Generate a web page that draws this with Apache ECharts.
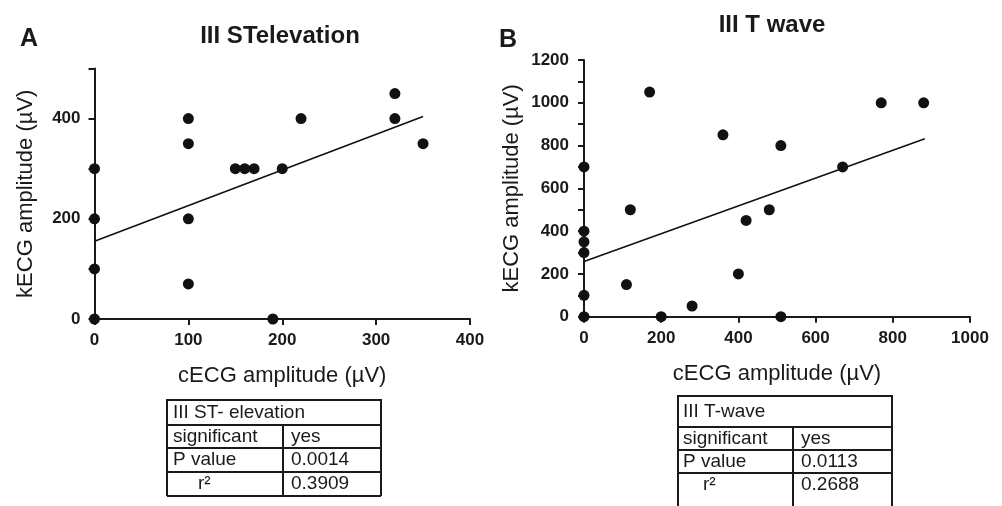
<!DOCTYPE html>
<html>
<head>
<meta charset="utf-8">
<script src="https://cdn.jsdelivr.net/npm/echarts@6/dist/echarts.min.js"></script>
<style>
  html, body { margin: 0; padding: 0; background: #fff; }
  #chart { width: 1002px; height: 506px; }
</style>
</head>
<body>
<div id="chart"></div>
<script>
// panel A : III ST elevation (cECG, kECG in µV)
var stPoints = [
  [0, 0], [0, 100], [0, 200], [0, 300],
  [100, 400], [100, 350], [100, 200], [100, 70],
  [150, 300], [160, 300], [170, 300], [200, 300],
  [220, 400], [190, 0], [320, 450], [320, 400], [350, 350]
]
var stFit = [[0, 155], [350, 404]]
var stYLabels = [0, 200, 400]
var stTable = [['III ST- elevation'], ['significant', 'yes'], ['P value', '0.0014'], ['r²', '0.3909']]

// panel B : III T wave
var twPoints = [
  [0, 0], [0, 100], [0, 300], [0, 350], [0, 400], [0, 700],
  [110, 150], [120, 500], [170, 1050], [200, 0], [280, 50],
  [360, 850], [400, 200], [420, 450], [480, 500], [510, 800],
  [510, 0], [670, 700], [770, 1000], [880, 1000]
]
var twFit = [[0, 258], [883, 832]]
var twYLabels = [0, 200, 400, 600, 800, 1000, 1200]
var twTable = [['III T-wave'], ['significant', 'yes'], ['P value', '0.0113'], ['r²', '0.2688']]

var font = 'Liberation Sans, Arial, Helvetica, sans-serif'
var ink = '#1a1a1a'

function xAxisOf(idx, max, step) {
  return {
    gridIndex: idx, type: 'value', min: 0, max: max, interval: step,
    name: 'cECG amplitude (µV)', nameLocation: 'middle', nameGap: 46,
    nameTextStyle: { fontFamily: font, fontSize: 22, color: ink },
    axisLine: { show: true, onZero: false, lineStyle: { color: ink, width: 2 } },
    axisTick: { show: true, length: 6, lineStyle: { color: ink, width: 2 } },
    axisLabel: {
      margin: 13, fontFamily: font, fontSize: 17, fontWeight: 'bold', color: ink,
      formatter: function (v) { return String(v) }
    },
    splitLine: { show: false }
  }
}

function yAxisOf(idx, max, labels, gap, margin) {
  return {
    gridIndex: idx, type: 'value', min: 0, max: max, interval: 100,
    name: 'kECG amplitude (µV)', nameLocation: 'middle', nameGap: gap,
    nameTextStyle: { fontFamily: font, fontSize: 22, color: ink },
    axisLine: { show: true, onZero: false, lineStyle: { color: ink, width: 2 } },
    axisTick: { show: true, length: 6, lineStyle: { color: ink, width: 2 } },
    axisLabel: {
      margin: margin, fontFamily: font, fontSize: 17, fontWeight: 'bold', color: ink,
      formatter: function (v) { return labels.indexOf(v) >= 0 ? String(v) : '' }
    },
    splitLine: { show: false }
  }
}

function dots(idx, data) {
  return {
    type: 'scatter', xAxisIndex: idx, yAxisIndex: idx, data: data,
    symbolSize: 11, clip: false, itemStyle: { color: '#111', opacity: 1 }, z: 3
  }
}

function fitLine(idx, data) {
  return {
    type: 'line', xAxisIndex: idx, yAxisIndex: idx, data: data,
    symbol: 'none', clip: false, lineStyle: { color: '#111', width: 1.6 }, z: 2
  }
}

// little boxed table under each panel; ys = row tops + bottom of last row
function table(rows, x0, x1, xs, ys, colX, lineEnd, closed, textX) {
  var els = []
  var border = { stroke: ink, lineWidth: 2, fill: null }
  els.push({ type: 'polyline', shape: { points: [[x0, lineEnd], [x0, ys[0]], [x1, ys[0]], [x1, lineEnd]] }, style: border })
  var last = closed ? ys.length : ys.length - 1
  for (var i = 1; i < last; i++) {
    els.push({ type: 'line', shape: { x1: x0, y1: ys[i], x2: x1, y2: ys[i] }, style: border })
  }
  els.push({ type: 'line', shape: { x1: colX, y1: ys[1], x2: colX, y2: lineEnd }, style: border })
  rows.forEach(function (row, r) {
    var yc = (ys[r] + ys[r + 1]) / 2
    row.forEach(function (cell, c) {
      var tx = c === 0 ? (r === 3 ? textX : xs[0]) : xs[1]
      els.push({
        type: 'text', x: tx, y: yc,
        style: { text: cell, font: '19px ' + font, fill: ink, textVerticalAlign: 'middle' }
      })
    })
  })
  return els
}

function label(text, x, y, size, bold, align) {
  return {
    type: 'text', x: x, y: y,
    style: {
      text: text, font: (bold ? 'bold ' : '') + size + 'px ' + font, fill: ink,
      textAlign: align || 'left', textVerticalAlign: 'middle'
    }
  }
}

var graphics = [
  label('A', 20, 39, 25, true),
  label('B', 499, 40, 25, true),
  label('III STelevation', 280, 36, 24, true, 'center'),
  label('III T wave', 772, 25, 24, true, 'center')
]
graphics = graphics.concat(table(stTable, 167, 381, [173, 291], [400, 425, 448, 472, 496], 283, 496, true, 198))
graphics = graphics.concat(table(twTable, 678, 892, [683, 801], [396, 427, 450, 473, 496], 793, 512, false, 703))

var chart = echarts.init(document.getElementById('chart'), null, { renderer: 'canvas' })
chart.setOption({
  animation: false,
  backgroundColor: '#fff',
  grid: [
    { left: 94.5, top: 68.5, width: 375.5, height: 250.5 },
    { left: 584, top: 60, width: 386, height: 256.7 }
  ],
  xAxis: [xAxisOf(0, 400, 100), xAxisOf(1, 1000, 200)],
  yAxis: [yAxisOf(0, 500, stYLabels, 58, 14), yAxisOf(1, 1200, twYLabels, 61, 15)],
  series: [dots(0, stPoints), fitLine(0, stFit), dots(1, twPoints), fitLine(1, twFit)],
  graphic: graphics
})
</script>
</body>
</html>
